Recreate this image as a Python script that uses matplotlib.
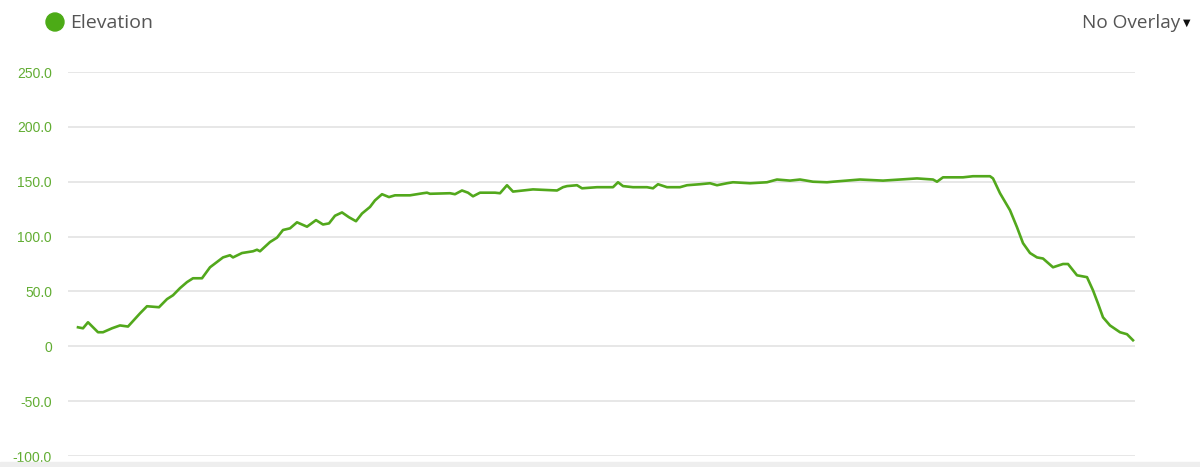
import matplotlib.pyplot as plt
from matplotlib.patches import Circle, Rectangle

# distance along route (km) and elevation (m)
distance = [0.00, 0.05, 0.10, 0.20, 0.25, 0.34, 0.42, 0.50, 0.62, 0.69, 0.81, 0.89,
            0.95, 1.02, 1.09, 1.15, 1.24, 1.32, 1.45, 1.52, 1.55, 1.64, 1.75, 1.79,
            1.82, 1.92, 1.99, 2.05, 2.12, 2.19, 2.29, 2.38, 2.45, 2.51, 2.57, 2.64,
            2.71, 2.78, 2.84, 2.92, 2.97, 3.04, 3.11, 3.17, 3.32, 3.45, 3.49, 3.52,
            3.72, 3.77, 3.84, 3.90, 3.95, 4.02, 4.17, 4.22, 4.29, 4.35, 4.55, 4.79,
            4.85, 4.89, 4.99, 5.04, 5.19, 5.35, 5.40, 5.45, 5.55, 5.69, 5.75, 5.80,
            5.89, 6.02, 6.09, 6.22, 6.32, 6.39, 6.49, 6.55, 6.72, 6.89, 6.99, 7.12,
            7.22, 7.35, 7.49, 7.55, 7.82, 8.05, 8.39, 8.55, 8.59, 8.65, 8.85, 8.95,
            9.12, 9.15, 9.22, 9.32, 9.39, 9.45, 9.52, 9.59, 9.65, 9.75, 9.85, 9.90,
            9.99, 10.09, 10.15, 10.20, 10.25, 10.32, 10.42, 10.49, 10.55]
elevation = [17.3, 16.4, 21.9, 12.8, 12.8, 16.4, 19.0, 18.0, 30.0, 36.5, 35.6, 43.0,
             46.5, 53.0, 58.5, 62.0, 62.0, 72.0, 81.0, 83.0, 81.0, 85.0, 86.6, 88.0,
             86.6, 95.0, 99.0, 106.0, 107.5, 113.0, 109.0, 115.0, 111.0, 112.0, 119.0, 122.0,
             117.6, 114.0, 121.0, 127.0, 133.0, 138.6, 136.0, 137.6, 137.6, 139.5, 140.0, 139.0,
             139.5, 138.6, 142.0, 140.0, 136.7, 140.0, 140.0, 139.5, 146.8, 141.0, 143.0, 142.0,
             145.0, 146.0, 146.8, 144.0, 145.0, 145.0, 149.5, 146.0, 145.0, 145.0, 144.0, 147.7,
             145.0, 145.0, 146.8, 147.7, 148.6, 146.8, 148.6, 149.5, 148.6, 149.5, 152.0, 151.0,
             152.0, 150.0, 149.5, 150.0, 152.0, 151.0, 153.0, 152.0, 150.0, 154.0, 154.0, 155.0,
             155.0, 153.0, 139.5, 124.0, 108.5, 94.0, 85.0, 81.0, 80.0, 72.0, 75.0, 75.0,
             64.7, 63.0, 51.0, 39.0, 26.4, 19.0, 12.8, 11.0, 5.5]

y_ticks = [-100, -50, 0, 50, 100, 150, 200, 250]
y_labels = ["-100.0", "-50.0", "0", "50.0", "100.0", "150.0", "200.0", "250.0"]

GREEN = "#52a81c"
LABEL_GREEN = "#62ad33"
W, H = 1200, 467

fig = plt.figure(figsize=(W / 100, H / 100), dpi=100)
ax = fig.add_axes([68 / W, 1 - 456 / H, (1135 - 68) / W, (456 - 72) / H])

ax.plot(distance, elevation, color=GREEN, linewidth=1.9, solid_joinstyle="round")

ax.set_xlim(-0.10, 10.57)
ax.set_ylim(-100, 250)
ax.set_yticks(y_ticks)
ax.set_yticklabels(y_labels, color=LABEL_GREEN, fontsize=10, family="Liberation Sans")
ax.tick_params(axis="y", length=0, pad=11.5)
ax.set_xticks([])
ax.grid(axis="y", color="#e3e3e3", linewidth=1.2)
ax.set_axisbelow(True)
for side in ax.spines.values():
    side.set_visible(False)

# header: legend dot + series name, overlay selector on the right
fig.patches.append(Circle((55, H - 22), 9, transform=None, color="#4cab16"))
fig.text(70 / W, 1 - 23 / H, "Elevation", fontsize=14, color="#555555",
         family="Open Sans", va="center", ha="left")
fig.text(1180 / W, 1 - 23 / H, "No Overlay", fontsize=13.7, color="#555555",
         family="Open Sans", va="center", ha="right")
fig.text(1183 / W, 1 - 23 / H, "\u25bc", fontsize=7, color="#111111",
         family="DejaVu Sans", va="center", ha="left")

# light strip along the bottom edge
fig.patches.append(Rectangle((0, 0), 1, 5 / H, transform=fig.transFigure,
                             color="#eeeeee", zorder=0))

fig.savefig("out.png", dpi=100)
